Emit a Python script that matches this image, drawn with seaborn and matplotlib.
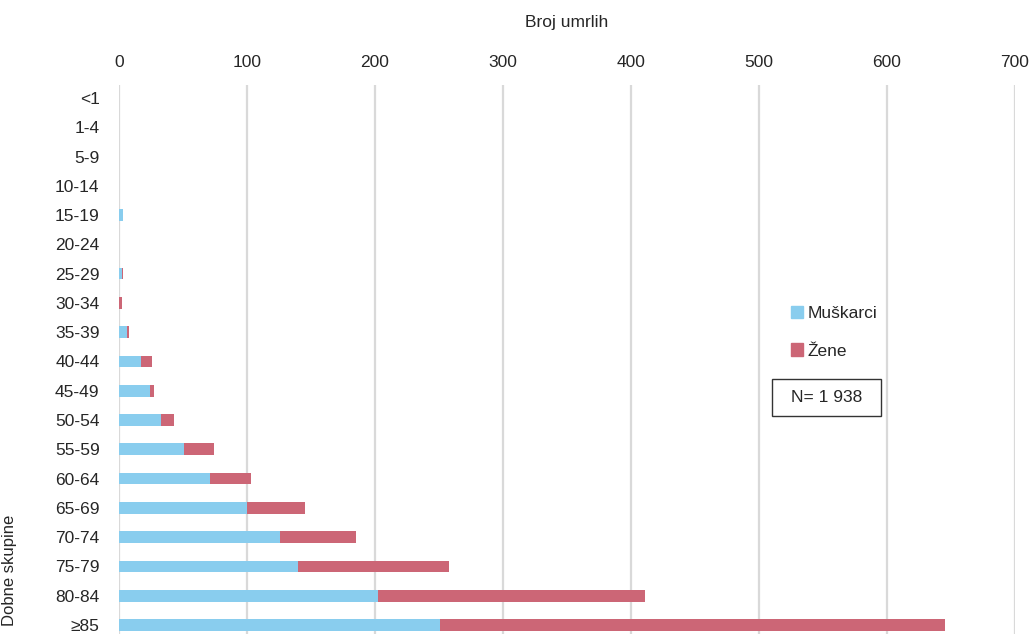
import pandas as pd
import matplotlib
matplotlib.use("Agg")
import matplotlib.pyplot as plt
import seaborn as sns
from matplotlib.patches import Patch, Rectangle

# --- Data ---
age_groups = ["<1", "1-4", "5-9", "10-14", "15-19", "20-24", "25-29", "30-34", "35-39",
              "40-44", "45-49", "50-54", "55-59", "60-64", "65-69", "70-74", "75-79",
              "80-84", "≥85"]
men = [0, 0, 0, 0, 3, 0, 2, 0, 6, 17, 24, 33, 51, 71, 100, 126, 140, 202, 251]
women = [0, 0, 0, 0, 0, 0, 1, 2, 2, 9, 3, 10, 23, 32, 45, 59, 118, 209, 394]
total_n = "N= 1 938"

blue = "#89CDEE"
red = "#CC6676"

sns.set_theme(style="white")
plt.rcParams["font.family"] = ["Liberation Sans Narrow", "Liberation Sans", "DejaVu Sans"]

df = pd.DataFrame({"Dobna": age_groups, "Muškarci": men, "Žene": women})
df["Ukupno"] = df["Muškarci"] + df["Žene"]

fig = plt.figure(figsize=(10.36, 6.34), dpi=100)
ax = fig.add_axes([119 / 1036, 0, (1015 - 119) / 1036, 549 / 634])

# stacked: total (red) under, men (blue) on top
sns.barplot(data=df, x="Ukupno", y="Dobna", color=red, width=0.4, ax=ax,
            saturation=1, orient="h", linewidth=0)
sns.barplot(data=df, x="Muškarci", y="Dobna", color=blue, width=0.4, ax=ax,
            saturation=1, orient="h", linewidth=0)

ax.set_xlim(0, 700)
ax.set_ylim(18.31, -0.444)
ax.set_xticks(range(0, 701, 100))
ax.xaxis.tick_top()
ax.xaxis.set_label_position("top")
ax.set_xlabel("Broj umrlih", fontsize=12.5, labelpad=20)
ax.set_ylabel("")
ax.tick_params(axis="both", length=0, labelsize=12.5)
ax.tick_params(axis="x", pad=11)
ax.tick_params(axis="y", pad=14)
ax.xaxis.grid(True, color="#d9d9d9", linewidth=1.6)
ax.set_axisbelow(True)
for s in ax.spines.values():
    s.set_visible(False)

fig.text(10 / 1036, 1 - 570 / 634, "Dobne skupine", rotation=90, fontsize=12,
         ha="center", va="center")

handles = [Patch(color=blue, label="Muškarci"), Patch(color=red, label="Žene")]
ax.legend(handles=handles, loc="upper left", bbox_to_anchor=(775 / 1036, 1 - 290 / 634),
          bbox_transform=fig.transFigure, frameon=False, fontsize=12.5,
          handlelength=0.7, handleheight=0.7, handletextpad=0.3, labelspacing=1.3)

# N box
fig.patches.append(Rectangle((772 / 1036, 1 - 416 / 634), 109 / 1036, 37 / 634,
                             transform=fig.transFigure, facecolor="white",
                             edgecolor="#333333", linewidth=1))
fig.text((772 + 881) / 2 / 1036, 1 - 397 / 634, total_n, fontsize=12.5,
         ha="center", va="center")

fig.savefig("out.png", dpi=100)
